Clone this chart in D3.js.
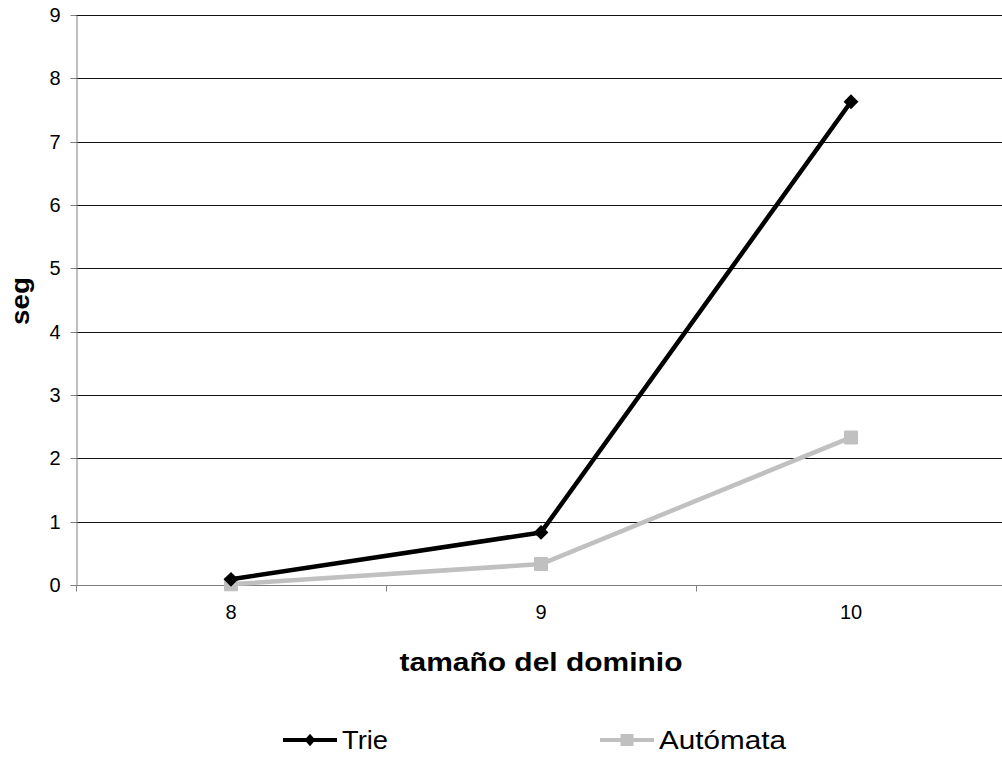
<!DOCTYPE html>
<html>
<head>
<meta charset="utf-8">
<script src="https://cdn.jsdelivr.net/npm/d3@7"></script>
<style>
  html, body { margin: 0; padding: 0; background: #fff; }
  svg { display: block; font-family: "Liberation Sans", Arial, sans-serif; }
</style>
</head>
<body>
<svg id="chart" width="1002" height="759"></svg>
<script>
// Domain sizes on the x axis
const categories = ["8", "9", "10"];
// Running time in seconds for each method
const trieValues = [0.09, 0.83, 7.63];
const automataValues = [0.01, 0.33, 2.33];
const yTicks = [0, 1, 2, 3, 4, 5, 6, 7, 8, 9];
const seriesNames = ["Trie", "Autómata"];

const svg = d3.select("#chart");
const plotLeft = 76, plotRight = 1006, plotTop = 15, plotBottom = 585;

const x = d3.scaleBand().domain(categories).range([plotLeft, plotRight]);
const y = d3.scaleLinear().domain([0, 9]).range([plotBottom, plotTop]);

// Rotated-square marker
const diamondType = {
  draw(ctx, size) {
    const r = Math.sqrt(size / 2);
    ctx.moveTo(0, -r); ctx.lineTo(r, 0); ctx.lineTo(0, r); ctx.lineTo(-r, 0); ctx.closePath();
  }
};
const diamond = d3.symbol().type(diamondType).size(110);

// Horizontal gridlines
svg.append("g").selectAll("line").data(yTicks.filter(d => d > 0)).join("line")
  .attr("x1", plotLeft).attr("x2", plotRight)
  .attr("y1", d => Math.round(y(d)) + 0.5).attr("y2", d => Math.round(y(d)) + 0.5)
  .attr("stroke", "#111").attr("stroke-width", 1);

// Y axis
const yAxis = svg.append("g").attr("transform", `translate(${plotLeft + 0.5},0)`)
  .call(d3.axisLeft(y).tickValues(yTicks).tickSize(6).tickSizeOuter(0).tickPadding(10)
    .tickFormat(d3.format("d")));
yAxis.select(".domain").attr("stroke", "#808080");
yAxis.selectAll(".tick line").attr("stroke", "#808080");
yAxis.selectAll(".tick").attr("transform", d => `translate(0,${Math.round(y(d)) + 0.5})`);
yAxis.selectAll("text").attr("font-size", 20).attr("fill", "#000")
  .attr("font-family", "Liberation Sans, Arial, sans-serif");

// X axis with ticks at the category boundaries
const xAxisG = svg.append("g").attr("transform", `translate(0,${plotBottom + 0.5})`);
xAxisG.append("line").attr("x1", plotLeft).attr("x2", plotRight)
  .attr("stroke", "#808080").attr("stroke-width", 1);
const boundaries = categories.map(c => x(c)).concat([x(categories[categories.length - 1]) + x.bandwidth()]);
xAxisG.selectAll("line.tk").data(boundaries).join("line").attr("class", "tk")
  .attr("x1", d => Math.round(d) + 0.5).attr("x2", d => Math.round(d) + 0.5)
  .attr("y1", 0).attr("y2", 6).attr("stroke", "#808080");
xAxisG.selectAll("text").data(categories).join("text")
  .attr("x", d => x(d) + x.bandwidth() / 2).attr("y", 33)
  .attr("text-anchor", "middle").attr("font-size", 20).text(d => d);

// Axis titles
svg.append("text").attr("x", x("9") + x.bandwidth() / 2).attr("y", 671)
  .attr("text-anchor", "middle").attr("font-size", 26).attr("font-weight", "bold")
  .attr("textLength", 283).attr("lengthAdjust", "spacingAndGlyphs")
  .text("tamaño del dominio");
svg.append("text").attr("transform", `translate(29,${(plotTop + plotBottom) / 2 + 1}) rotate(-90)`)
  .attr("text-anchor", "middle").attr("font-size", 25).attr("font-weight", "bold")
  .attr("textLength", 48).attr("lengthAdjust", "spacingAndGlyphs")
  .text("seg");

const cx = d => x(d) + x.bandwidth() / 2;
const line = d3.line().x(d => cx(d[0])).y(d => y(d[1]));

// Automata series (gray, squares)
const autoData = categories.map((c, i) => [c, automataValues[i]]);
svg.append("path").datum(autoData).attr("d", line)
  .attr("fill", "none").attr("stroke", "#c0c0c0").attr("stroke-width", 4.5)
  .attr("stroke-linejoin", "round");
svg.append("g").selectAll("rect").data(autoData).join("rect")
  .attr("x", d => cx(d[0]) - 7).attr("y", d => y(d[1]) - 7)
  .attr("width", 14).attr("height", 14).attr("rx", 1).attr("fill", "#c0c0c0");

// Trie series (black, diamonds)
const trieData = categories.map((c, i) => [c, trieValues[i]]);
svg.append("path").datum(trieData).attr("d", line)
  .attr("fill", "none").attr("stroke", "#000").attr("stroke-width", 4.5)
  .attr("stroke-linejoin", "round");
svg.append("g").selectAll("path").data(trieData).join("path")
  .attr("d", diamond)
  .attr("transform", d => `translate(${cx(d[0])},${y(d[1])})`)
  .attr("fill", "#000");

// Legend
const legendY = 740;
const legend = [
  { name: seriesNames[0], x0: 283, color: "#000", marker: "diamond", len: 46 },
  { name: seriesNames[1], x0: 600, color: "#c0c0c0", marker: "square", len: 127 }
];
legend.forEach(l => {
  svg.append("line").attr("x1", l.x0).attr("x2", l.x0 + 54)
    .attr("y1", legendY).attr("y2", legendY)
    .attr("stroke", l.color).attr("stroke-width", 4);
  if (l.marker === "diamond") {
    svg.append("path").attr("d", d3.symbol().type(diamondType).size(80))
      .attr("transform", `translate(${l.x0 + 27},${legendY}) scale(0.85,1)`).attr("fill", l.color);
  } else {
    svg.append("rect").attr("x", l.x0 + 27 - 6.5).attr("y", legendY - 6)
      .attr("width", 13).attr("height", 12).attr("fill", l.color);
  }
  svg.append("text").attr("x", l.x0 + 59).attr("y", legendY + 9)
    .attr("font-size", 26).attr("textLength", l.len).attr("lengthAdjust", "spacingAndGlyphs")
    .text(l.name);
});
</script>
</body>
</html>
